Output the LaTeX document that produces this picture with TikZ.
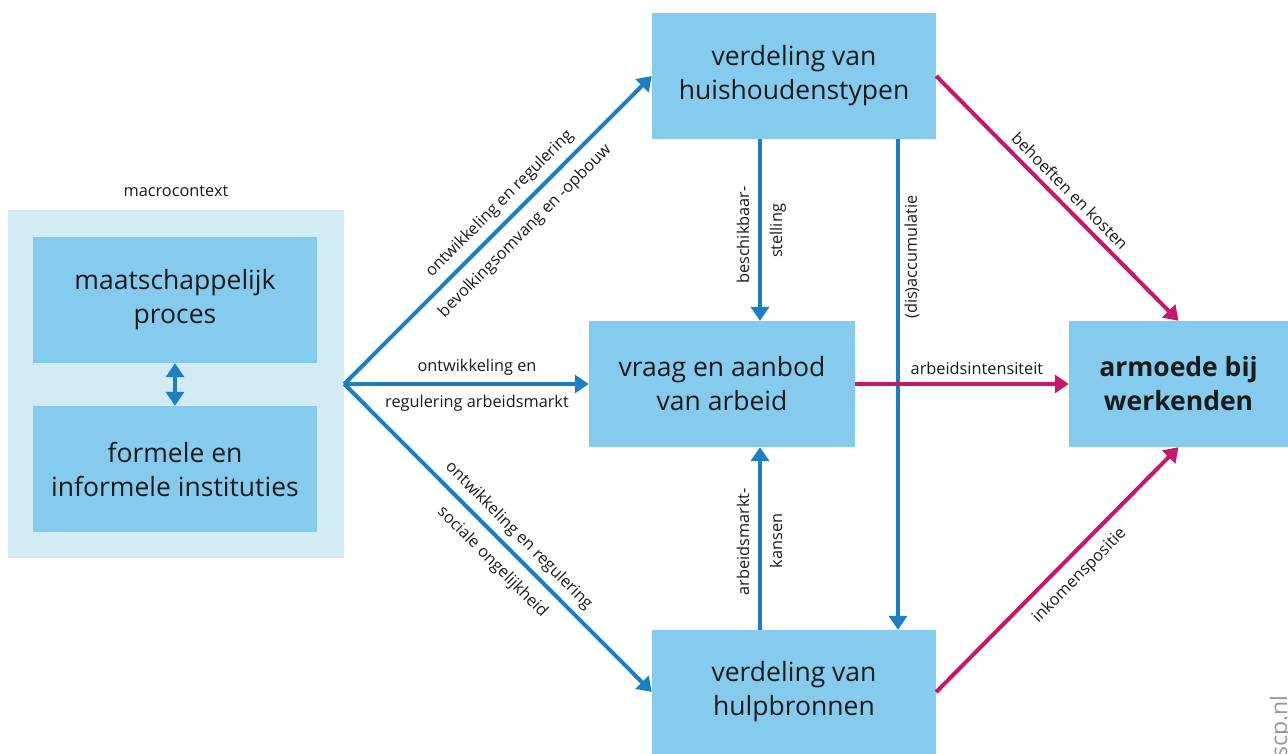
\documentclass[tikz,border=0pt]{standalone}
\usepackage{fontspec}
\setmainfont{Open Sans}
\usetikzlibrary{arrows.meta}
\definecolor{boxblue}{HTML}{84CBEE}
\definecolor{ctxblue}{HTML}{D3ECF4}
\definecolor{arrblue}{HTML}{1A7FC3}
\definecolor{arrmag}{HTML}{C8166B}
\definecolor{txt}{HTML}{1A1A1A}
\begin{document}
\begin{tikzpicture}[x=1pt,y=-1pt,
  box/.style={fill=boxblue, inner sep=0pt, align=center, text=txt, font=\fontsize{26.5}{34}\selectfont},
  lbl/.style={font=\fontsize{16.3}{19}\selectfont, text=txt, inner sep=2pt},
  barrow/.style={draw=arrblue, line width=4pt, -{Triangle[length=14pt,width=18pt]}},
  marrow/.style={draw=arrmag, line width=4pt, -{Triangle[length=14pt,width=18pt]}},
]
\useasboundingbox (0,0) rectangle (1288,754);
\node[fill=ctxblue, minimum width=336pt, minimum height=348pt, inner sep=0pt] (ctx) at (176,384) {};
\node[lbl] (ctxlbl) at (176,191) {macrocontext};
\node[box, minimum width=284pt, minimum height=126pt] (maat) at (175,300) {maatschappelijk\\proces};
\node[box, minimum width=284pt, minimum height=126pt] (form) at (175,469) {formele en\\informele instituties};
\node[box, minimum width=284pt, minimum height=126pt] (huis) at (794,76) {verdeling van\\huishoudenstypen};
\node[box, minimum width=266pt, minimum height=126pt] (vraag) at (722,384) {vraag en aanbod\\van arbeid};
\node[box, minimum width=284pt, minimum height=124pt] (hulp) at (794,692) {verdeling van\\hulpbronnen};
\node[box, minimum width=219pt, minimum height=126pt, font=\fontsize{26.5}{34}\selectfont\bfseries] (arm) at (1178.5,384) {armoede bij\\werkenden};

\draw[draw=arrblue, line width=4pt, {Triangle[length=14pt,width=18pt]}-{Triangle[length=14pt,width=18pt]}] (maat.south) -- (form.north);

\draw[barrow] (ctx.east) -- (huis.west)
  node[lbl, pos=0.545, sloped, above=5pt] {ontwikkeling en regulering}
  node[lbl, pos=0.542, sloped, below=8pt] {bevolkingsomvang en -opbouw};
\draw[barrow] (ctx.east) -- (vraag.west)
  node[lbl, pos=0.543, above=5pt] {ontwikkeling en}
  node[lbl, pos=0.543, below=7pt] {regulering arbeidsmarkt};
\draw[barrow] (ctx.east) -- (hulp.west)
  node[lbl, pos=0.53, sloped, above=4pt] {ontwikkeling en regulering}
  node[lbl, pos=0.53, sloped, below=9pt] {sociale ongelijkheid};

\coordinate (c1) at (760,0);
\coordinate (c2) at (898,0);
\draw[barrow] (huis.south -| c1) -- (vraag.north -| c1);
\draw[barrow] (hulp.north -| c1) -- (vraag.south -| c1);
\draw[barrow] (huis.south -| c2) -- (hulp.north -| c2);

\node[lbl, rotate=90] (l1) at (743,235) {beschikbaar-};
\node[lbl, rotate=90] (l2) at (778,231) {stelling};
\node[lbl, rotate=90] (l3) at (743,542) {arbeidsmarkt-};
\node[lbl, rotate=90] (l4) at (776,541) {kansen};
\node[lbl, rotate=90] (l5) at (912,257) {(dis)accumulatie};

\draw[marrow] (huis.east) -- (arm.north)
  node[lbl, pos=0.51, sloped, above=4pt] {behoeften en kosten};
\draw[marrow] (vraag.east) -- (arm.west)
  node[lbl, pos=0.57, above=5pt] {arbeidsintensiteit};
\draw[marrow] (hulp.east) -- (arm.south)
  node[lbl, pos=0.533, sloped, below=8pt] {inkomenspositie};

\node[font=\fontsize{23}{27}\selectfont, text=black!40, rotate=90, anchor=base east, inner sep=0pt] (scp) at (1287,695) {scp.nl};
\end{tikzpicture}
\end{document}
